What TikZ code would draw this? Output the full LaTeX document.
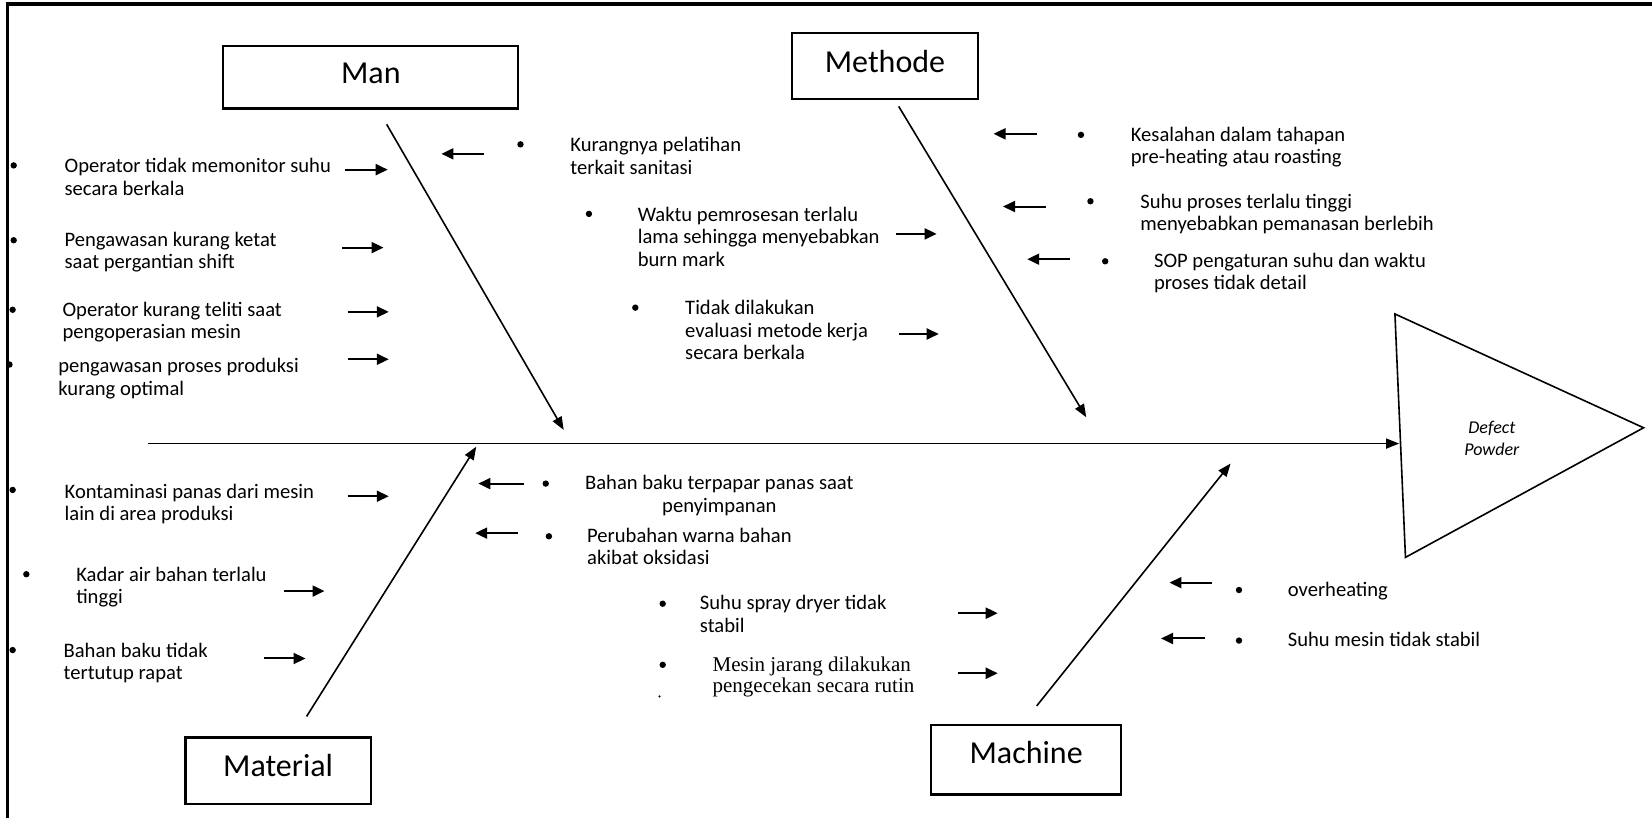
\documentclass[tikz,border=0pt]{standalone}
\usepackage{fontspec}
\setmainfont{Carlito}
\newfontfamily\serifx{Liberation Serif}
\usetikzlibrary{arrows.meta}
\newcommand\sarr[4]{\coordinate (#1a) at (#2,#4); \coordinate (#1b) at (#3,#4); \draw[smallarrow] (#1a) -- (#1b);}
\begin{document}
\begin{tikzpicture}[x=0.5268pt,y=-0.5268pt,
  txt/.style={anchor=north west,inner sep=0pt,align=left,font=\fontsize{10.3}{11.2}\selectfont},
  bul/.style={circle,fill=black,inner sep=0pt,minimum size=3.2pt},
  catbox/.style={draw=black,line width=1.1pt,inner sep=0pt},
  cattext/.style={font=\fontsize{16}{18}\selectfont,inner sep=0pt},
  smallarrow/.style={line width=1pt,-{Triangle[length=6pt,width=5.5pt]}},
  spine/.style={line width=0.8pt,-{Triangle[length=6.5pt,width=5pt]}},
  border/.style={line width=1.8pt}]
\useasboundingbox (0,0) rectangle (1568,776);
\fill[white] (0,0) rectangle (1568,776);

% category boxes
\node[catbox,minimum width=280*0.5268pt,minimum height=59*0.5268pt] (manbox) at (352,73.5) {};
\node[cattext] (man) at (352,70) {Man};
\node[catbox,minimum width=176*0.5268pt,minimum height=63*0.5268pt] (metbox) at (840,62.5) {};
\node[cattext] (met) at (840,58) {Methode};
\node[catbox,minimum width=176*0.5268pt,minimum height=63*0.5268pt] (matbox) at (264,731.5) {};
\node[cattext] (mat) at (264,727) {Material};
\node[catbox,minimum width=180*0.5268pt,minimum height=66*0.5268pt] (macbox) at (974,721) {};
\node[cattext] (mac) at (974,714) {Machine};

% head triangle
\coordinate (tA) at (1324,298);
\coordinate (tB) at (1560,406);
\coordinate (tC) at (1334,529);
\draw[line width=0.8pt,line join=miter] (tA) -- (tB) -- (tC) -- cycle;
\node[font=\fontsize{9}{11}\selectfont\itshape,align=center,inner sep=0pt] (defect) at (1416,416) {Defect\\Powder};

% main spine
\coordinate (mainS) at (140,421);
\coordinate (mainE) at (1328,421);
\draw[spine] (mainS) -- (mainE);

% bones
\coordinate (manS) at (367,118); \coordinate (manE) at (535,408);
\draw[spine] (manS) -- (manE);
\coordinate (metS) at (853,101); \coordinate (metE) at (1031,396);
\draw[spine] (metS) -- (metE);
\coordinate (matS) at (291,680); \coordinate (matE) at (452,424);
\draw[spine] (matS) -- (matE);
\coordinate (macS) at (984,670); \coordinate (macE) at (1168,440);
\draw[spine] (macS) -- (macE);

% bullets
\node[bul] (b1) at (13,157) {};
\node[bul] (b2) at (13,228) {};
\node[bul] (b3) at (12,294) {};
\node[bul] (b4) at (9,346) {};
\node[bul] (b5) at (494,137) {};
\node[bul] (b6) at (559,203) {};
\node[bul] (b7) at (603,292) {};
\node[bul] (b8) at (1026,128) {};
\node[bul] (b9) at (1035,191) {};
\node[bul] (b10) at (1049,248) {};
\node[bul] (b11) at (12,465) {};
\node[bul] (b12) at (25,545) {};
\node[bul] (b13) at (12,617) {};
\node[bul] (b14) at (518,459) {};
\node[bul] (b15) at (521,509) {};
\node[bul] (b16) at (629,573) {};
\node[bul] (b17) at (629,631) {};
\node[bul] (b18) at (1176,560) {};
\node[bul] (b19) at (1176,608) {};
\node[circle,fill=black,inner sep=0pt,minimum size=1.2pt] (dot) at (626,661) {};

% texts
\node[txt] (t1) at (61,150) {Operator tidak memonitor suhu\\secara berkala};
\node[txt] (t2) at (61,220) {Pengawasan kurang ketat\\saat pergantian shift};
\node[txt] (t3) at (59,286) {Operator kurang teliti saat\\pengoperasian mesin};
\node[txt] (t4) at (55,340) {pengawasan proses produksi\\kurang optimal};
\node[txt] (t5) at (541,130) {Kurangnya pelatihan\\terkait sanitasi};
\node[txt] (t6) at (605,196) {Waktu pemrosesan terlalu\\lama sehingga menyebabkan\\burn mark};
\node[txt] (t7) at (650,285) {Tidak dilakukan\\evaluasi metode kerja\\secara berkala};
\node[txt] (t8) at (1073,120) {Kesalahan dalam tahapan\\pre-heating atau roasting};
\node[txt] (t9) at (1082,184) {Suhu proses terlalu tinggi\\menyebabkan pemanasan berlebih};
\node[txt] (t10) at (1095,240) {SOP pengaturan suhu dan waktu\\proses tidak detail};
\node[txt] (t11) at (61,459) {Kontaminasi panas dari mesin\\lain di area produksi};
\node[txt] (t12) at (72,538) {Kadar air bahan terlalu\\tinggi};
\node[txt] (t13) at (60,610) {Bahan baku tidak\\tertutup rapat};
\node[txt,align=center] (t14) at (555,451) {Bahan baku terpapar panas saat\\penyimpanan};
\node[txt] (t15) at (557,501) {Perubahan warna bahan\\akibat oksidasi};
\node[txt] (t16) at (664,565) {Suhu spray dryer tidak\\stabil};
\node[txt,font=\serifx\fontsize{10.5}{10.5}\selectfont] (t17) at (676,623) {Mesin jarang dilakukan\\pengecekan secara rutin};
\node[txt] (t18) at (1222,552) {overheating};
\node[txt] (t19) at (1222,600) {Suhu mesin tidak stabil};

% small arrows
\sarr{a1}{327}{368}{161}
\sarr{a2}{325}{364}{235}
\sarr{a3}{330}{369}{296}
\sarr{a4}{330}{369}{341}
\sarr{a5}{459}{419}{146}
\sarr{a6}{850}{889}{222}
\sarr{a7}{853}{891}{317}
\sarr{a8}{984}{943}{127}
\sarr{a9}{993}{952}{196}
\sarr{a10}{1016}{975}{246}
\sarr{a11}{330}{369}{471}
\sarr{a12}{270}{308}{561}
\sarr{a13}{251}{290}{625}
\sarr{a14}{497}{454}{459}
\sarr{a15}{492}{451}{506}
\sarr{a16}{909}{947}{582}
\sarr{a17}{909}{947}{639}
\sarr{a18}{1150}{1110}{553}
\sarr{a19}{1144}{1102}{606}

% frame (top and left only)
\coordinate (fTL) at (7,4);
\coordinate (fTR) at (1568,4);
\coordinate (fBL) at (7,776);
\fill[white] (0,0) rectangle (6,776);
\draw[border,line cap=rect] (fBL) -- (fTL) -- (fTR);
\end{tikzpicture}
\end{document}
